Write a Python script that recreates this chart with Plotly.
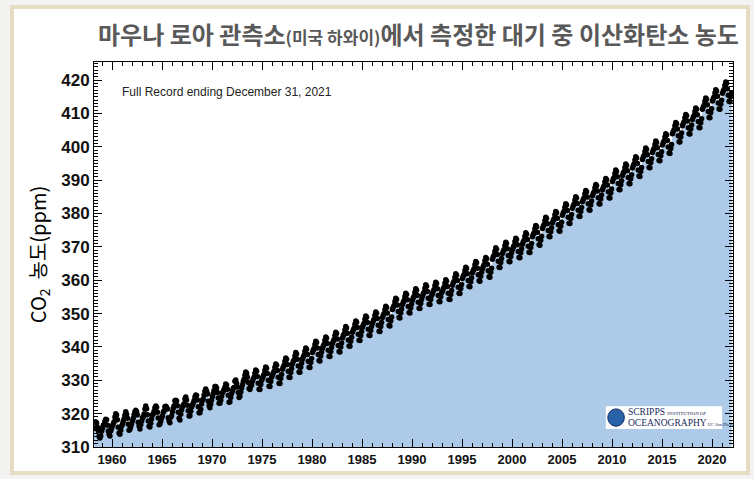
import plotly.graph_objects as go

# ─── DATA: monthly mean CO2 at Mauna Loa (ppm) ─────────────────────────
# first value is March 1958, one value per month after that
co2_1958_1969 = [
    315.7, 317.5, 317.5, 317.2, 315.9, 314.9, 313.2, 312.7, 313.3, 314.7,
    315.6, 316.5, 316.7, 317.7, 318.3, 318.2, 316.5, 314.8, 313.8, 313.3, 314.8, 315.6,
    316.4, 317.0, 317.6, 319.0, 320.0, 319.6, 318.2, 315.9, 314.2, 313.8, 315.0, 316.2,
    316.9, 317.7, 318.5, 319.5, 320.6, 319.8, 318.6, 316.8, 315.0, 315.3, 316.1, 317.0,
    317.9, 318.6, 319.7, 320.6, 321.0, 320.6, 319.6, 317.4, 316.3, 315.4, 316.7, 317.7,
    318.7, 319.1, 319.9, 321.4, 322.3, 321.5, 319.7, 317.8, 316.2, 316.0, 317.1, 318.4,
    319.6, 320.0, 320.7, 321.8, 322.3, 321.9, 320.4, 318.7, 316.7, 316.9, 317.7, 318.7,
    319.4, 320.4, 320.9, 322.1, 322.2, 321.9, 321.4, 318.8, 317.8, 317.3, 318.9, 319.4,
    320.6, 321.6, 322.4, 323.9, 324.0, 323.8, 322.4, 320.4, 318.6, 318.1, 319.8, 321.1,
    322.1, 322.5, 323.0, 324.4, 325.0, 324.1, 322.5, 320.9, 319.3, 319.4, 320.7, 322.0,
    322.6, 323.2, 323.9, 325.0, 325.6, 325.4, 324.1, 322.1, 320.3, 320.3, 321.3, 322.9,
    324.0, 324.4, 325.6, 326.7, 327.4, 326.7, 325.9, 323.7, 322.4, 321.8, 322.9, 324.1,
]
co2_1970s = [
    325.1, 326.0, 326.9, 328.1, 328.1, 327.7, 326.3, 324.7, 323.1, 323.1, 324.0, 325.1,
    326.2, 326.7, 327.2, 327.8, 328.9, 328.6, 327.3, 325.5, 323.4, 323.6, 324.8, 326.0,
    326.8, 327.6, 327.8, 329.7, 330.1, 329.1, 328.0, 326.3, 324.8, 325.2, 326.5, 327.6,
    328.6, 329.6, 330.3, 331.5, 332.5, 332.1, 330.9, 329.3, 327.5, 327.2, 328.2, 328.6,
    329.7, 330.4, 330.9, 332.1, 333.1, 332.7, 331.1, 329.1, 327.3, 327.2, 328.7, 329.9,
    330.6, 331.3, 331.8, 333.0, 334.0, 333.6, 332.0, 330.0, 328.2, 328.1, 329.6, 330.8,
    331.5, 332.2, 332.7, 333.9, 334.9, 334.5, 332.9, 330.9, 329.1, 329.0, 330.5, 331.7,
    333.3, 334.0, 334.5, 335.7, 336.7, 336.3, 334.7, 332.7, 330.9, 330.8, 332.3, 333.5,
    334.9, 335.6, 336.1, 337.3, 338.3, 337.9, 336.3, 334.3, 332.5, 332.4, 333.9, 335.1,
    336.3, 337.0, 337.5, 338.7, 339.7, 339.3, 337.7, 335.7, 333.9, 333.8, 335.3, 336.5,
]
co2_1980s = [
    338.3, 339.0, 339.5, 340.7, 341.7, 341.3, 339.7, 337.7, 335.9, 335.8, 337.3, 338.5,
    339.6, 340.3, 340.8, 342.0, 343.0, 342.6, 341.0, 339.0, 337.2, 337.1, 338.6, 339.8,
    341.0, 341.7, 342.2, 343.4, 344.4, 344.0, 342.4, 340.4, 338.6, 338.5, 340.0, 341.2,
    342.7, 343.4, 343.9, 345.1, 346.1, 345.7, 344.1, 342.1, 340.3, 340.2, 341.7, 342.9,
    344.4, 345.1, 345.6, 346.8, 347.8, 347.4, 345.8, 343.8, 342.0, 341.9, 343.4, 344.6,
    345.9, 346.6, 347.1, 348.3, 349.3, 348.9, 347.3, 345.3, 343.5, 343.4, 344.9, 346.1,
    347.1, 347.8, 348.3, 349.5, 350.5, 350.1, 348.5, 346.5, 344.7, 344.6, 346.1, 347.3,
    348.8, 349.5, 350.0, 351.2, 352.2, 351.8, 350.2, 348.2, 346.4, 346.3, 347.8, 349.0,
    351.2, 351.9, 352.4, 353.6, 354.6, 354.2, 352.6, 350.6, 348.8, 348.7, 350.2, 351.4,
    352.7, 353.4, 353.9, 355.1, 356.1, 355.7, 354.1, 352.1, 350.3, 350.2, 351.7, 352.9,
]
co2_1990s = [
    354.0, 354.7, 355.2, 356.4, 357.4, 357.0, 355.4, 353.4, 351.6, 351.5, 353.0, 354.2,
    355.2, 355.9, 356.4, 357.6, 358.6, 358.2, 356.6, 354.6, 352.8, 352.7, 354.2, 355.4,
    356.0, 356.7, 357.2, 358.4, 359.4, 359.0, 357.4, 355.4, 353.6, 353.5, 355.0, 356.2,
    356.7, 357.4, 357.9, 359.1, 360.1, 359.7, 358.1, 356.1, 354.3, 354.2, 355.7, 356.9,
    358.5, 359.2, 359.7, 360.9, 361.9, 361.5, 359.9, 357.9, 356.1, 356.0, 357.5, 358.7,
    360.5, 361.2, 361.7, 362.9, 363.9, 363.5, 361.9, 359.9, 358.1, 358.0, 359.5, 360.7,
    362.2, 362.9, 363.4, 364.6, 365.6, 365.2, 363.6, 361.6, 359.8, 359.7, 361.2, 362.4,
    363.4, 364.1, 364.6, 365.8, 366.8, 366.4, 364.8, 362.8, 361.0, 360.9, 362.4, 363.6,
    366.3, 367.0, 367.5, 368.7, 369.7, 369.3, 367.7, 365.7, 363.9, 363.8, 365.3, 366.5,
    368.0, 368.7, 369.2, 370.4, 371.4, 371.0, 369.4, 367.4, 365.6, 365.5, 367.0, 368.2,
]
co2_2000s = [
    369.2, 369.9, 370.4, 371.6, 372.6, 372.2, 370.6, 368.6, 366.8, 366.7, 368.2, 369.4,
    370.8, 371.5, 372.0, 373.2, 374.2, 373.8, 372.2, 370.2, 368.4, 368.3, 369.8, 371.0,
    373.0, 373.7, 374.2, 375.4, 376.4, 376.0, 374.4, 372.4, 370.6, 370.5, 372.0, 373.2,
    375.5, 376.2, 376.7, 377.9, 378.9, 378.5, 376.9, 374.9, 373.1, 373.0, 374.5, 375.7,
    377.2, 377.9, 378.4, 379.6, 380.6, 380.2, 378.6, 376.6, 374.8, 374.7, 376.2, 377.4,
    379.5, 380.2, 380.7, 381.9, 382.9, 382.5, 380.9, 378.9, 377.1, 377.0, 378.5, 379.7,
    381.6, 382.3, 382.8, 384.0, 385.0, 384.6, 383.0, 381.0, 379.2, 379.1, 380.6, 381.8,
    383.5, 384.2, 384.7, 385.9, 386.9, 386.5, 384.9, 382.9, 381.1, 381.0, 382.5, 383.7,
    385.3, 386.0, 386.5, 387.7, 388.7, 388.3, 386.7, 384.7, 382.9, 382.8, 384.3, 385.5,
    387.1, 387.8, 388.3, 389.5, 390.5, 390.1, 388.5, 386.5, 384.7, 384.6, 386.1, 387.3,
]
co2_2010s = [
    389.6, 390.3, 390.8, 392.0, 393.0, 392.6, 391.0, 389.0, 387.2, 387.1, 388.6, 389.8,
    391.4, 392.1, 392.6, 393.8, 394.8, 394.4, 392.8, 390.8, 389.0, 388.9, 390.4, 391.6,
    393.6, 394.3, 394.8, 396.0, 397.0, 396.6, 395.0, 393.0, 391.2, 391.1, 392.6, 393.8,
    396.2, 396.9, 397.4, 398.6, 399.6, 399.2, 397.6, 395.6, 393.8, 393.7, 395.2, 396.4,
    398.3, 399.0, 399.5, 400.7, 401.7, 401.3, 399.7, 397.7, 395.9, 395.8, 397.3, 398.5,
    400.5, 401.2, 401.7, 402.9, 403.9, 403.5, 401.9, 399.9, 398.1, 398.0, 399.5, 400.7,
    403.9, 404.6, 405.1, 406.3, 407.3, 406.9, 405.3, 403.3, 401.5, 401.4, 402.9, 404.1,
    406.3, 407.0, 407.5, 408.7, 409.7, 409.3, 407.7, 405.7, 403.9, 403.8, 405.3, 406.5,
    408.2, 408.9, 409.4, 410.6, 411.6, 411.2, 409.6, 407.6, 405.8, 405.7, 407.2, 408.4,
    411.2, 411.9, 412.4, 413.6, 414.6, 414.2, 412.6, 410.6, 408.8, 408.7, 410.2, 411.4,
]
co2_2020s = [
    413.7, 414.4, 414.9, 416.1, 417.1, 416.7, 415.1, 413.1, 411.3, 411.2, 412.7, 413.9,
    416.0, 416.7, 417.2, 418.4, 419.4, 419.0, 417.4, 415.4, 413.6, 413.5, 415.0, 416.2,
]

x_ticks = [1960, 1965, 1970, 1975, 1980, 1985, 1990, 1995, 2000, 2005, 2010, 2015, 2020]
y_ticks = [310, 320, 330, 340, 350, 360, 370, 380, 390, 400, 410, 420]

TITLE = ("마우나 로아 관측소<span style='font-size:17px'>(미국 하와이)</span>"
         "에서 측정한 대기 중 이산화탄소 농도")
NOTE = "Full Record ending December 31, 2021"

co2 = (co2_1958_1969 + co2_1970s + co2_1980s + co2_1990s
       + co2_2000s + co2_2010s + co2_2020s)
# mid-month positions in decimal years, starting March 1958
years = [1958 + (2 + i + 0.5) / 12 for i in range(len(co2))]

FILL = "#adcbe8"
FRAME = "#e6ddc4"

# ─── FIGURE ─────────────────────────────────────────────
fig = go.Figure()
fig.add_trace(go.Scatter(
    x=years, y=co2, mode="lines", fill="tozeroy",
    line=dict(width=0, color=FILL), fillcolor=FILL, hoverinfo="skip",
))
fig.add_trace(go.Scatter(
    x=years, y=co2, mode="markers",
    marker=dict(size=5.5, color="black"),
))

axis_common = dict(
    showline=True, linecolor="black", linewidth=1, mirror="ticks",
    ticks="inside", tickcolor="black", showgrid=False, zeroline=False,
)
fig.update_xaxes(
    range=[1958.2, 2022.1], tickvals=x_ticks, ticklen=8,
    minor=dict(dtick=1, ticks="inside", ticklen=4, tickcolor="black"),
    tickfont=dict(family="Liberation Sans", weight="bold", size=13, color="#111"),
    **axis_common,
)
fig.update_yaxes(
    range=[310, 425.4], tickvals=y_ticks, ticklen=8,
    minor=dict(dtick=1, ticks="inside", ticklen=4, tickcolor="black"),
    tickfont=dict(family="Liberation Sans", weight="bold", size=17, color="#111"),
    title=dict(text="CO<sub>2</sub>  농도(ppm)", standoff=9,
               font=dict(family="Noto Sans CJK KR", size=20, color="black")),
    **axis_common,
)

# page frame (white card on a light grey page), title, note and logo
fig.add_shape(type="rect", xref="paper", yref="paper",
              x0=-0.1283, x1=1.0235, y0=-0.0675, y1=1.143,
              fillcolor="white", line=dict(color=FRAME, width=4), layer="below")
fig.add_annotation(text=TITLE, xref="paper", yref="paper",
                   x=1.013, y=1.075, xanchor="right", yanchor="middle",
                   showarrow=False,
                   font=dict(family="Noto Sans CJK KR", size=24,
                             weight="bold", color="#595959"))
fig.add_annotation(text=NOTE, xref="paper", yref="paper",
                   x=0.04, y=0.922, xanchor="left", yanchor="middle",
                   showarrow=False,
                   font=dict(family="Liberation Sans", size=12, color="#222"))

# Scripps logo box
fig.add_shape(type="rect", xref="paper", yref="paper",
              x0=0.801, x1=0.983, y0=0.047, y1=0.106,
              fillcolor="white", line=dict(width=0))
fig.add_shape(type="circle", xref="paper", yref="paper",
              x0=0.804, x1=0.830, y0=0.054, y1=0.099,
              fillcolor="#2a62a8", line=dict(color="#0d2a66", width=1))
fig.add_annotation(text="SCRIPPS <span style='font-size:5px'>INSTITUTION OF</span>",
                   xref="paper", yref="paper", x=0.832, y=0.091,
                   xanchor="left", yanchor="middle", showarrow=False,
                   font=dict(family="Liberation Serif", size=9.5, color="#1a2a5a"))
fig.add_annotation(text="OCEANOGRAPHY<span style='font-size:4.5px'> UC San Diego</span>",
                   xref="paper", yref="paper", x=0.832, y=0.063,
                   xanchor="left", yanchor="middle", showarrow=False,
                   font=dict(family="Liberation Serif", size=9.5, color="#1a2a5a"))

fig.update_layout(
    width=754, height=479,
    margin=dict(l=94, r=21, t=62, b=32),
    paper_bgcolor="#f3f3f1", plot_bgcolor="white",
    showlegend=False,
)

# the page's default body margin would push the figure 8px off the window
fig.write_html("out.html", config={"displayModeBar": False},
               post_script="document.body.style.margin='0';")
